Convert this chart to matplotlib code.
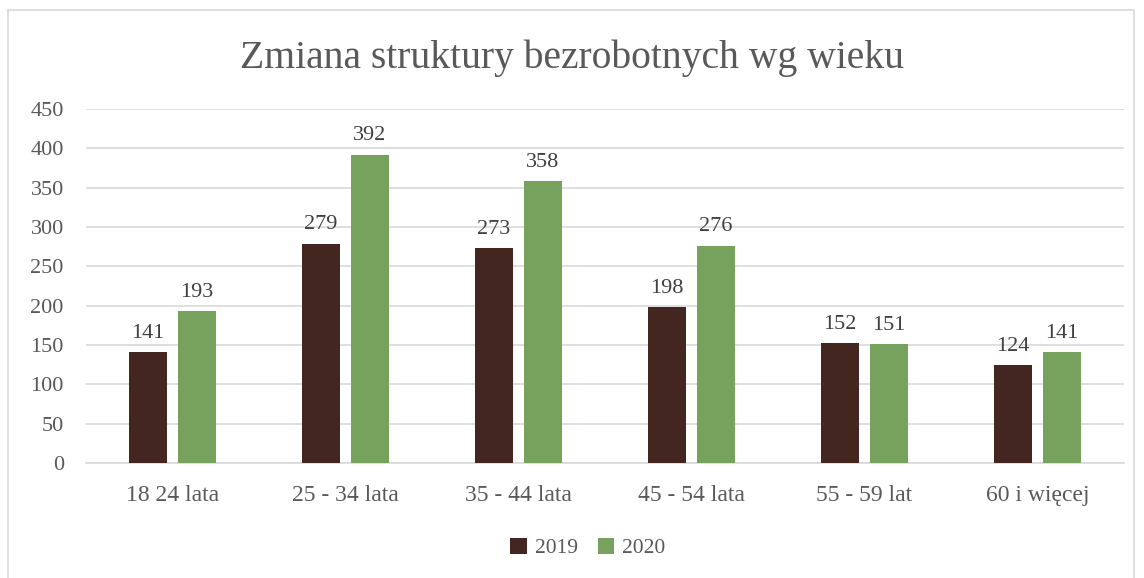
import numpy as np
import matplotlib
matplotlib.use("Agg")
import matplotlib.pyplot as plt
from matplotlib.patches import Rectangle

kategorie = ['18 24 lata', '25 - 34 lata', '35 - 44 lata', '45 - 54 lata', '55 - 59 lat', '60 i więcej']
rok_2019 = [141, 279, 273, 198, 152, 124]
rok_2020 = [193, 392, 358, 276, 151, 141]

plt.rcParams['font.family'] = ['Liberation Serif', 'DejaVu Serif']
tekst = '#595959'
kolor_2019 = '#43261f'
kolor_2020 = '#76a25d'

fig = plt.figure(figsize=(11.44, 5.78), dpi=100)
ax = fig.add_axes([0.0752, 0.199, 0.9073, 0.6124])

# ramka wykresu
fig.patches.append(Rectangle((8 / 1144, -0.05), 1126 / 1144, 1.05 - 10 / 578,
                             transform=fig.transFigure, fill=False,
                             edgecolor='#d9d9d9', linewidth=1.2))

x = np.arange(len(kategorie))
szer = 0.225
b1 = ax.bar(x - 0.1416, rok_2019, szer, color=kolor_2019, label='2019', zorder=3)
b2 = ax.bar(x + 0.1416, rok_2020, szer, color=kolor_2020, label='2020', zorder=3)

for bars in (b1, b2):
    for b in bars:
        ax.text(b.get_x() + b.get_width() / 2, b.get_height() + 12, str(int(b.get_height())),
                ha='center', va='bottom', fontsize=16, color='#404040')

ax.set_xlim(-0.5, len(kategorie) - 0.5)
ax.set_ylim(0, 450)
ax.set_yticks(range(0, 451, 50))
ax.yaxis.grid(True, color='#d9d9d9', linewidth=1.2, zorder=0)
ax.set_axisbelow(True)
for s in ['top', 'right', 'left']:
    ax.spines[s].set_visible(False)
ax.spines['bottom'].set_color('#d9d9d9')
ax.spines['bottom'].set_linewidth(1.2)
ax.tick_params(axis='both', length=0, colors=tekst)
ax.tick_params(axis='x', pad=16, labelsize=17)
ax.tick_params(axis='y', pad=16, labelsize=16)
ax.set_xticks(x)
ax.set_xticklabels(kategorie)

fig.text(0.5, 0.9, 'Zmiana struktury bezrobotnych wg wieku', ha='center', va='center',
         fontsize=28.5, color=tekst)

fig.legend(handles=[b1, b2], labels=['2019', '2020'], loc='center', bbox_to_anchor=(0.514, 0.052),
           ncol=2, frameon=False, fontsize=15.5, handlelength=0.75, handleheight=0.75,
           handletextpad=0.4, columnspacing=0.9, labelcolor=tekst)

fig.savefig('out.png', dpi=100)
